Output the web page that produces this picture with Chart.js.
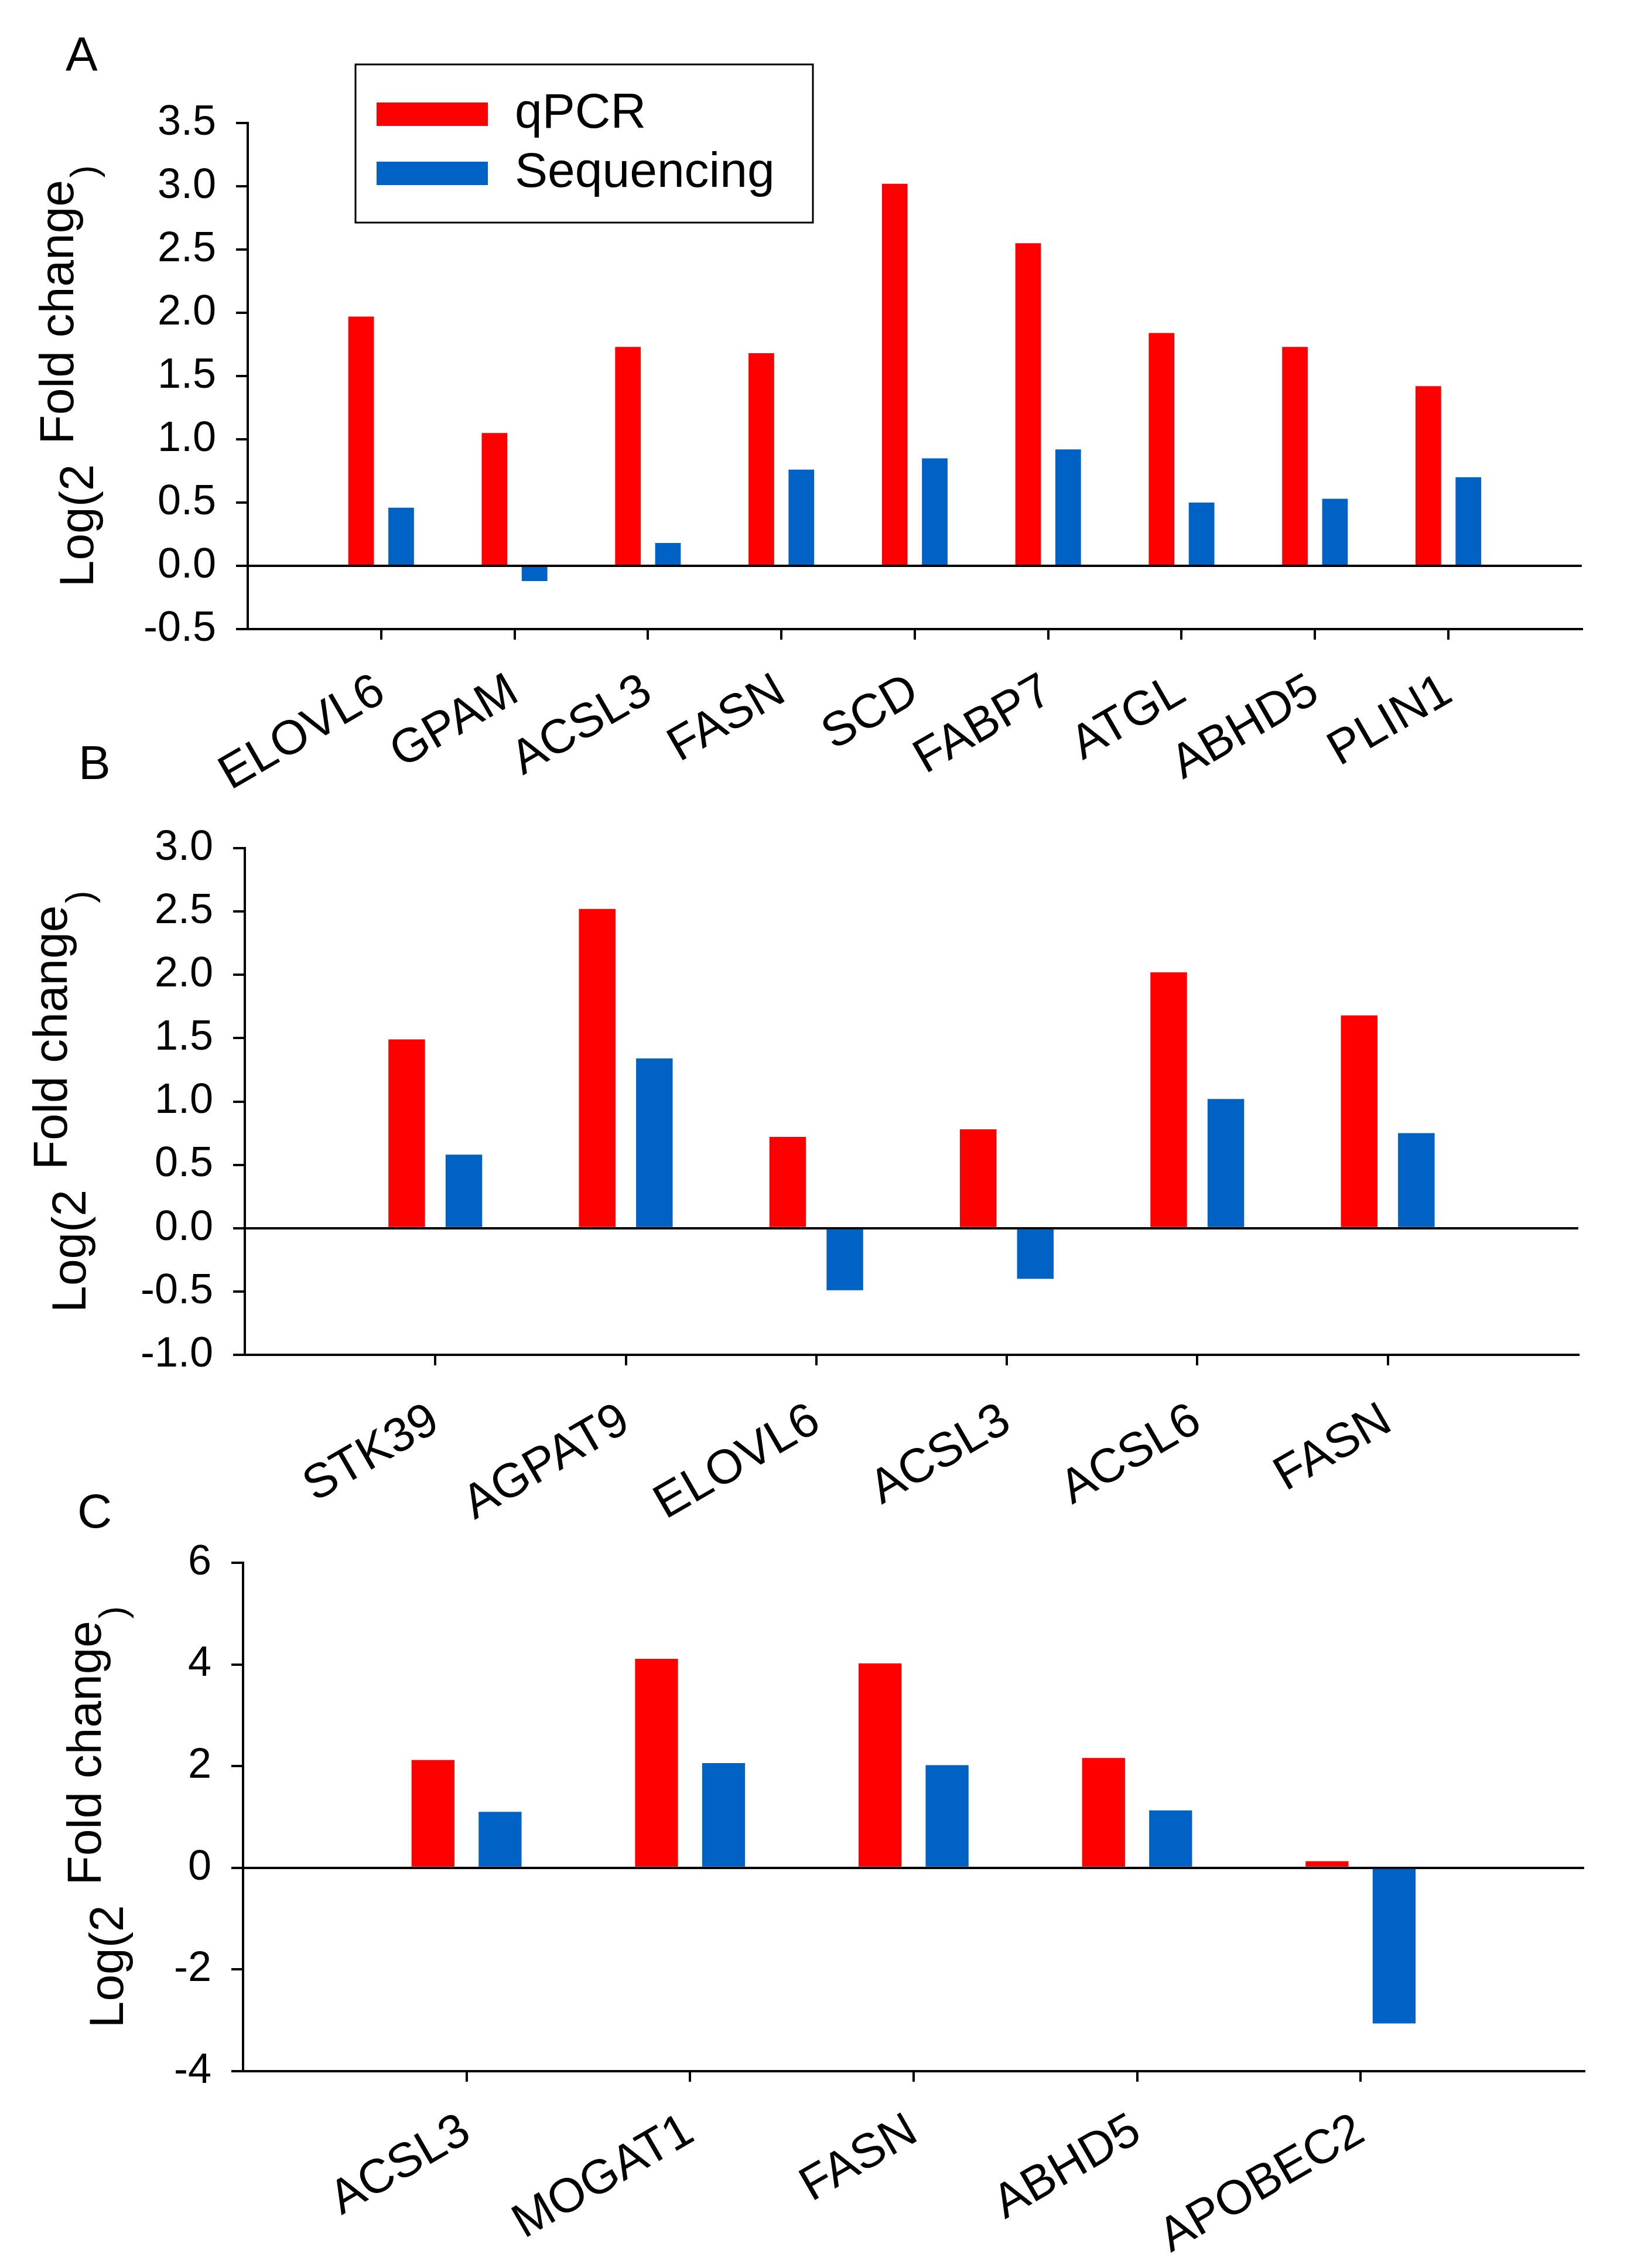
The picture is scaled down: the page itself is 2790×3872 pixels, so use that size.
<!DOCTYPE html>
<html>
<head>
<meta charset="utf-8">
<script src="https://cdn.jsdelivr.net/npm/chart.js@4.4.1/dist/chart.umd.min.js"></script>
<style>
  html, body { margin: 0; padding: 0; background: #fff; }
  body { width: 2790px; height: 3872px; position: relative; overflow: hidden; }
  canvas { position: absolute; left: 0; }
</style>
</head>
<body>
<canvas id="chartA" width="2790" height="1400" style="top:0px"></canvas>
<canvas id="chartB" width="2790" height="1420" style="top:1230px"></canvas>
<canvas id="chartC" width="2790" height="1392" style="top:2480px"></canvas>
<script>
const seriesNames = ["qPCR", "Sequencing"];
const seriesColors = ["#FF0000", "#0062C4"];

// panel A
const genesA = ["ELOVL6", "GPAM", "ACSL3", "FASN", "SCD", "FABP7", "ATGL", "ABHD5", "PLIN1"];
const qpcrA = [1.97, 1.05, 1.73, 1.68, 3.02, 2.55, 1.84, 1.73, 1.42];
const seqA = [0.46, -0.12, 0.18, 0.76, 0.85, 0.92, 0.50, 0.53, 0.70];
const ticksA = [-0.5, 0, 0.5, 1, 1.5, 2, 2.5, 3, 3.5];

// panel B
const genesB = ["STK39", "AGPAT9", "ELOVL6", "ACSL3", "ACSL6", "FASN"];
const qpcrB = [1.49, 2.52, 0.72, 0.78, 2.02, 1.68];
const seqB = [0.58, 1.34, -0.49, -0.40, 1.02, 0.75];
const ticksB = [-1, -0.5, 0, 0.5, 1, 1.5, 2, 2.5, 3];

// panel C
const genesC = ["ACSL3", "MOGAT1", "FASN", "ABHD5", "APOBEC2"];
const qpcrC = [2.12, 4.11, 4.02, 2.16, 0.13];
const seqC = [1.10, 2.06, 2.02, 1.13, -3.06];
const ticksC = [-4, -2, 0, 2, 4, 6];

const FONT = '"Liberation Sans", Arial, sans-serif';
Chart.defaults.font.family = FONT;
Chart.defaults.color = "#000";

// panel letter, the broken-up y title and the boxed legend
const decor = {
  id: "decor",
  afterDraw(chart, args, o) {
    const ctx = chart.ctx;
    const area = chart.chartArea;
    ctx.save();
    ctx.fillStyle = "#000";
    ctx.textAlign = "left";
    ctx.textBaseline = "alphabetic";
    ctx.font = "82px " + FONT;
    ctx.fillText(o.letter, o.letterX, o.letterY);

    const big = "82px " + FONT, small = "64px " + FONT;
    ctx.font = big;
    const w1 = ctx.measureText("Log(2").width;
    const w2 = ctx.measureText("Fold change").width;
    ctx.font = small;
    const w3 = ctx.measureText(")").width;
    const gap = 34;
    const total = w1 + gap + w2 + 4 + w3;
    const start = (area.top + area.bottom) / 2 + total / 2;
    const piece = (txt, font, x, y) => {
      ctx.save();
      ctx.translate(x, y);
      ctx.rotate(-Math.PI / 2);
      ctx.font = font;
      ctx.fillText(txt, 0, 0);
      ctx.restore();
    };
    piece("Log(2", big, o.tLog, start);
    piece("Fold change", big, o.tFold, start - w1 - gap);
    piece(")", small, o.tParen, start - w1 - gap - w2 - 4);

    if (o.legend) {
      const L = o.legend;
      ctx.lineWidth = 3;
      ctx.strokeStyle = "#000";
      ctx.strokeRect(L.x, L.y, L.w, L.h);
      ctx.textBaseline = "middle";
      ctx.font = "84px " + FONT;
      chart.data.datasets.forEach((ds, i) => {
        const y = L.y + L.rows[i];
        ctx.fillStyle = ds.backgroundColor;
        ctx.fillRect(L.x + 36, y - 20, 190, 40);
        ctx.fillStyle = "#000";
        ctx.fillText(ds.label, L.x + 272, y);
      });
    }
    ctx.restore();
  }
};

function makePanel(id, genes, qpcr, seq, yTicks, decimals, box, decorOpts) {
  const n = genes.length;
  const pts = vals => vals.map((v, i) => ({ x: i + 1, y: v }));
  return new Chart(document.getElementById(id), {
    type: "bar",
    data: {
      datasets: [
        { label: seriesNames[0], data: pts(qpcr), backgroundColor: seriesColors[0] },
        { label: seriesNames[1], data: pts(seq), backgroundColor: seriesColors[1] }
      ]
    },
    options: {
      responsive: false,
      animation: false,
      devicePixelRatio: 1,
      layout: { padding: { top: box.top, right: box.right, left: 0, bottom: 0 } },
      datasets: { bar: { categoryPercentage: 0.6, barPercentage: 0.64, borderWidth: 0 } },
      plugins: { legend: { display: false }, tooltip: { enabled: false }, decor: decorOpts },
      scales: {
        x: {
          type: "linear", min: 0, max: n + 1, offset: false,
          afterFit: s => { s.height = box.xHeight; },
          afterBuildTicks: s => { s.ticks = Array.from({ length: n + 2 }, (_, i) => ({ value: i })); },
          grid: {
            offset: false, drawOnChartArea: false, tickLength: 18, lineWidth: 4,
            tickColor: c => (c.tick && c.tick.value >= 1 && c.tick.value <= n) ? "#000" : "rgba(0,0,0,0)"
          },
          border: { color: "#000", width: 4 },
          ticks: {
            autoSkip: false, minRotation: 30, maxRotation: 30, padding: box.xPad,
            font: { size: 82 }, callback: v => genes[v - 1] || ""
          }
        },
        y: {
          min: yTicks[0], max: yTicks[yTicks.length - 1],
          afterFit: s => { s.width = box.left; },
          afterBuildTicks: s => { s.ticks = yTicks.map(v => ({ value: v })); },
          grid: {
            color: c => (c.tick && c.tick.value === 0) ? "#000" : "rgba(0,0,0,0)",
            lineWidth: 4, tickLength: 20, tickColor: "#000"
          },
          border: { color: "#000", width: 4 },
          ticks: { padding: 34, font: { size: 72 }, callback: v => v.toFixed(decimals) }
        }
      }
    },
    plugins: [decor]
  });
}

makePanel("chartA", genesA, qpcrA, seqA, ticksA, 1,
  { top: 210, right: 55, left: 423, xHeight: 326, xPad: 40 },
  { letter: "A", letterX: 112, letterY: 120, tLog: 159, tFold: 125, tParen: 166,
    legend: { x: 607, y: 110, w: 781, h: 270, rows: [85, 186] } });

makePanel("chartB", genesB, qpcrB, seqB, ticksB, 1,
  { top: 218, right: 68, left: 418, xHeight: 337, xPad: 46 },
  { letter: "B", letterX: 134, letterY: 100, tLog: 146, tFold: 114, tParen: 158 });

makePanel("chartC", genesC, qpcrC, seqC, ticksC, 0,
  { top: 188, right: 68, left: 415, xHeight: 336, xPad: 36 },
  { letter: "C", letterX: 132, letterY: 128, tLog: 210, tFold: 172, tParen: 215 });
</script>
</body>
</html>
